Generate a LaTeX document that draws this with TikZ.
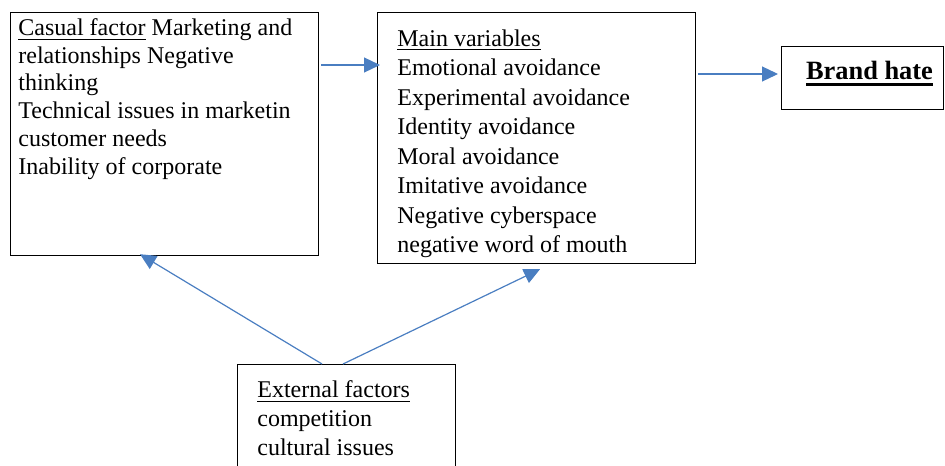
\documentclass[tikz,border=0pt]{standalone}
\usepackage{fontspec}
\setmainfont{Liberation Serif}
\usetikzlibrary{positioning, arrows.meta}
\definecolor{linkblue}{RGB}{74,126,193}
\newcommand{\headword}[2][0.6pt]{\vtop{\hbox{#2}\kern1.5pt\hrule height #1}}

\begin{document}
\begin{tikzpicture}
        [x=0.5pt, y=-0.5pt,
         box/.style={draw, line width=0.6pt, inner sep=0pt, anchor=north west},
         txt/.style={inner sep=0pt, anchor=north west, align=left},
         link/.style={color=linkblue, line width=0.6pt, ->},
         >={Triangle[length=8pt, width=7.5pt]}]
        \clip (0,0) rectangle (945,465);

        % boxes
        \node[box, minimum width=154pt, minimum height=121.5pt] (casual) at (10,12) {};
        \node[box, minimum width=159pt, minimum height=125.5pt] (main) at (377,12) {};
        \node[box, minimum width=81pt, minimum height=31.5pt] (brand) at (781,46) {};
        \node[box, minimum width=109pt, minimum height=70pt] (external) at (237,364) {};

        % texts
        \node[txt, font=\fontsize{12}{13.9}\selectfont] (casualtxt) at (18,18)
            {\headword{Casual factor} Marketing and\\relationships Negative\\thinking\\Technical issues in marketin\\customer needs\\Inability of corporate};
        \node[txt, font=\fontsize{12}{14.75}\selectfont] (maintxt) at (397,29)
            {\headword{Main variables}\\Emotional avoidance\\Experimental avoidance\\Identity avoidance\\Moral avoidance\\Imitative avoidance\\Negative cyberspace\\negative word of mouth};
        \node[anchor=base, inner sep=0pt, font=\fontsize{13.2}{15}\selectfont\bfseries] (brandtxt) at (869.5,80)
            {\headword[1.2pt]{Brand hate}};
        \node[txt, font=\fontsize{12}{14.5}\selectfont] (externaltxt) at (257,380)
            {\headword{External factors}\\competition\\cultural issues};

        % connectors
        \draw[link] ([shift={(2,53)}]casual.north east) -- ([shift={(3,53)}]main.north west);
        \draw[link] ([shift={(2,62)}]main.north east) -- ([shift={(-3,28)}]brand.north west);
        \draw[link] ([shift={(85,0)}]external.north west) -- ([shift={(130,-2)}]casual.south west);
        \draw[link] ([shift={(106,0)}]external.north west) -- ([shift={(163,5)}]main.south west);
\end{tikzpicture}
\end{document}
